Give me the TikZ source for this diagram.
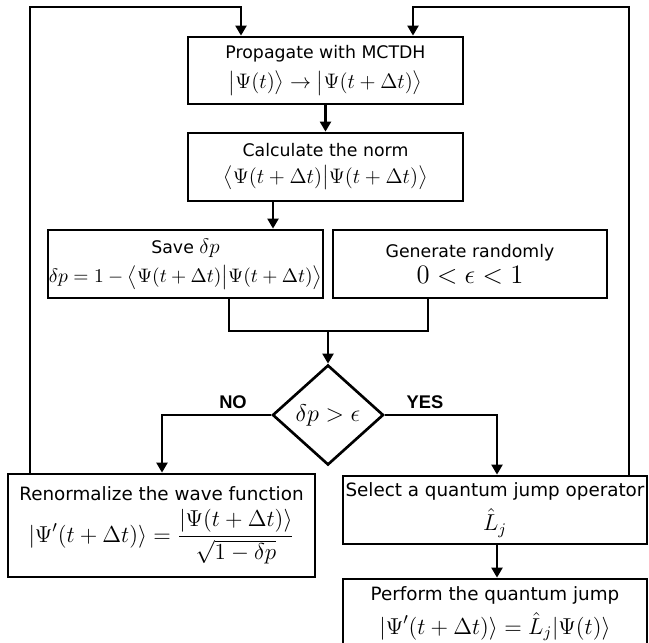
\RequirePackage{fix-cm}
\documentclass[tikz,border=0pt]{standalone}
\usepackage{fontspec}
\usepackage{amsmath}
\setmainfont{DejaVu Sans}
\newfontfamily\lblfont{Liberation Sans}
\usetikzlibrary{arrows.meta,shapes.geometric}
\begin{document}
\begin{tikzpicture}[x=0.6pt,y=-0.6pt,
  box/.style={draw,line width=1.6pt,inner sep=0pt,align=center,
    font=\fontsize{10.4}{12}\selectfont},
  lowbox/.style={box,font=\fontsize{11}{13}\selectfont},
  dia/.style={draw,diamond,line width=1.6pt,inner sep=0pt,
    minimum width=66.6pt,minimum height=60pt,font=\fontsize{14.5}{17}\selectfont},
  arr/.style={line width=1.6pt,-{Triangle[length=6pt,width=6.5pt]}},
  ln/.style={line width=1.6pt},
  lbl/.style={font=\lblfont\bfseries\fontsize{11}{13}\selectfont}]
\useasboundingbox (0,0) rectangle (649,643);
\newcommand{\mtx}[2]{{\fontsize{#1}{#1}\selectfont$\displaystyle #2$}}
% boxes
\node[box,minimum width=165pt,minimum height=40.2pt] (b1) at (325.5,70.5)
  {Propagate with MCTDH\\[4pt]\mtx{12.6}{\big|\Psi(t)\big\rangle \rightarrow \big|\Psi(t+\Delta t)\big\rangle}};
\node[box,minimum width=165pt,minimum height=40.8pt] (b2) at (325.5,167)
  {Calculate the norm\\[4pt]\mtx{12.6}{\big\langle\Psi(t+\Delta t)\big|\Psi(t+\Delta t)\big\rangle}};
\node[box,minimum width=165pt,minimum height=40.8pt] (save) at (185.5,264)
  {Save \mtx{12.6}{\delta p}\\[4pt]\mtx{11.7}{\delta p = 1 - \big\langle\Psi(t+\Delta t)\big|\Psi(t+\Delta t)\big\rangle}};
\node[box,minimum width=164.4pt,minimum height=40.8pt] (gen) at (470,264)
  {Generate randomly\\[2pt]\mtx{16}{0<\epsilon<1}};
\node[dia] (d) at (328,415) {$\delta p>\epsilon$};
\node[lowbox,minimum width=184.2pt,minimum height=61.8pt] (ren) at (161.5,525.5)
  {Renormalize the wave function\\[4pt]\mtx{13.8}{|\Psi'(t+\Delta t)\rangle = \frac{|\Psi(t+\Delta t)\rangle}{\sqrt{1-\delta p}}}};
\node[lowbox,minimum width=182.4pt,minimum height=40.8pt] (sel) at (495,510)
  {Select a quantum jump operator\\[4pt]\mtx{13.8}{\hat{L}_j}};
\node[lowbox,minimum width=182.4pt,minimum height=41.4pt] (perf) at (495,613.5)
  {Perform the quantum jump\\[4pt]\mtx{13.8}{|\Psi'(t+\Delta t)\rangle = \hat{L}_j|\Psi(t)\rangle}};
% labels
\node[lbl] (no) at (233,402) {NO};
\node[lbl] (yes) at (425,402) {YES};
% coordinates
\coordinate (c1) at (273,0);
\coordinate (m1) at (229,331);
\coordinate (m2) at (428,331);
\coordinate (m0) at (328,331);
\coordinate (nL) at (162,415);
\coordinate (nR) at (497,415);
\coordinate (L1) at (30,7);
\coordinate (L2) at (241,7);
\coordinate (R1) at (629,7);
\coordinate (R2) at (413,7);
% connectors
\draw[arr] (b1) -- (b2);
\draw[arr] (b2.south -| c1) -- (save.north -| c1);
\draw[ln] (save.south -| m1) -- (m1) -- (m2) -- (gen.south -| m2);
\draw[arr] (m0) -- (d.north);
\draw[arr] (d.west) -- (nL) -- (ren.north -| nL);
\draw[arr] (d.east) -- (nR) -- (sel.north -| nR);
\draw[arr] (sel.south -| nR) -- (perf.north -| nR);
\draw[arr] (ren.north -| L1) -- (L1) -- (L2) -- (b1.north -| L2);
\draw[arr] (sel.north -| R1) -- (R1) -- (R2) -- (b1.north -| R2);
\end{tikzpicture}
\end{document}
